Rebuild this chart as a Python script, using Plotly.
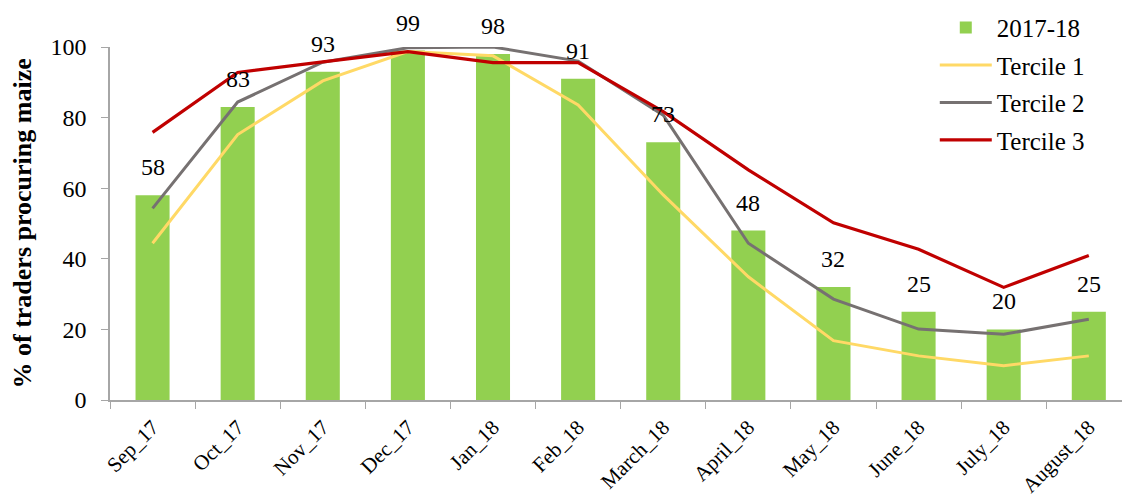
import plotly.graph_objects as go

months = ["Sep_17", "Oct_17", "Nov_17", "Dec_17", "Jan_18", "Feb_18",
          "March_18", "April_18", "May_18", "June_18", "July_18", "August_18"]
share_2017_18 = [58, 83, 93, 99, 98, 91, 73, 48, 32, 25, 20, 25]
tercile_1 = [44.4, 75.2, 90.4, 98.7, 97.5, 83.6, 58.1, 34.9, 16.8, 12.5, 9.7, 12.5]
tercile_2 = [54.3, 84.4, 95.7, 99.8, 100.0, 96.0, 80.7, 44.4, 28.6, 20.1, 18.6, 22.9]
tercile_3 = [75.8, 92.8, 95.8, 98.7, 95.6, 95.6, 81.7, 65.2, 50.2, 42.7, 31.9, 40.9]

FONT = "'Liberation Serif', 'DejaVu Serif', serif"
AXIS_GREY = "#A6A6A6"

fig = go.Figure()
fig.add_trace(go.Bar(x=months, y=share_2017_18, name="2017-18", legendgroup="a",
                     marker=dict(color="#92D050", line=dict(width=0)), width=0.4))
fig.add_trace(go.Scatter(x=months, y=tercile_1, name="Tercile 1", mode="lines",
                         legendgroup="b", line=dict(color="#FFD966", width=3)))
fig.add_trace(go.Scatter(x=months, y=tercile_2, name="Tercile 2", mode="lines",
                         legendgroup="c", line=dict(color="#767171", width=3)))
fig.add_trace(go.Scatter(x=months, y=tercile_3, name="Tercile 3", mode="lines",
                         legendgroup="d", line=dict(color="#C00000", width=3.2)))

# value labels above each bar
for m, v in zip(months, share_2017_18):
    fig.add_annotation(x=m, y=v, text=str(v), showarrow=False, yanchor="bottom",
                       yshift=13, font=dict(family=FONT, size=24, color="#000000"))

# vertical axis title
fig.add_annotation(xref="paper", yref="paper", x=-88 / 1012, y=0.5,
                   text="<b>% of traders procuring maize</b>", textangle=-90,
                   showarrow=False, xanchor="center", yanchor="middle",
                   font=dict(family=FONT, size=26, color="#000000"))

fig.update_layout(
    width=1122, height=499,
    margin=dict(l=110, r=0, t=47, b=99, autoexpand=False),
    paper_bgcolor="white", plot_bgcolor="white",
    font=dict(family=FONT, size=24, color="#000000"),
    showlegend=True,
    legend=dict(x=0.815, y=1.12, xanchor="left", yanchor="top",
                bgcolor="rgba(0,0,0,0)", font=dict(family=FONT, size=25, color="#000000"),
                traceorder="grouped", tracegroupgap=2, itemwidth=52),
)
fig.update_xaxes(type="category", range=[-0.5, 11.39], showgrid=False, automargin=False,
                 showline=True, linecolor=AXIS_GREY, linewidth=1.5,
                 ticks="outside", tickson="boundaries", ticklen=7, tickcolor=AXIS_GREY,
                 tickangle=-45, tickfont=dict(family=FONT, size=21, color="#000000"),
                 ticklabelstandoff=5)
fig.update_yaxes(range=[0, 100], dtick=20, showgrid=False, zeroline=False, automargin=False,
                 showline=True, linecolor=AXIS_GREY, linewidth=1.5,
                 ticks="outside", ticklen=7, tickcolor=AXIS_GREY,
                 tickfont=dict(family=FONT, size=24, color="#000000"), ticklabelstandoff=10)

fig.write_html("out.html")
